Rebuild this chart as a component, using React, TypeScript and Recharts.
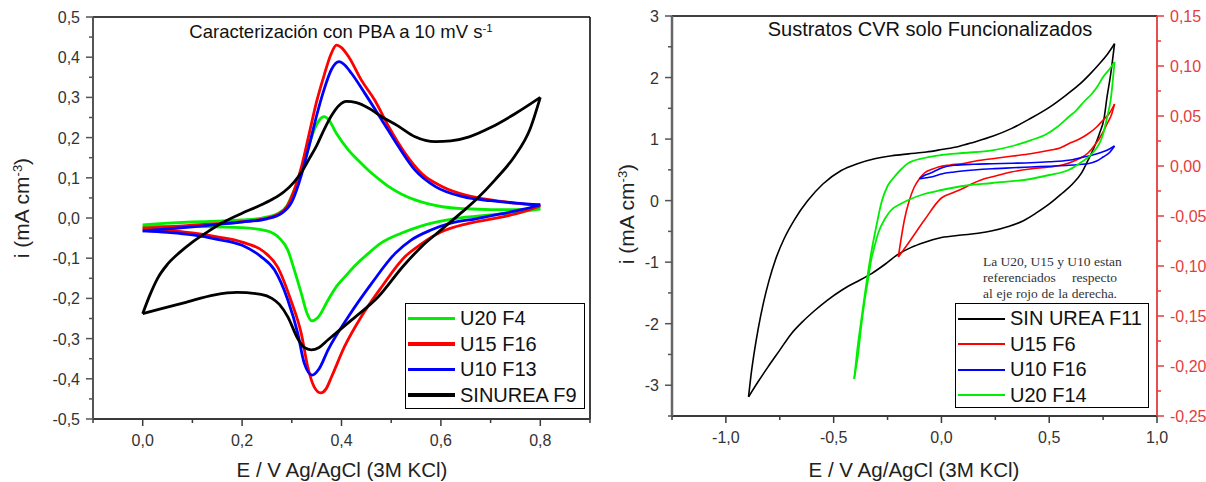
import React from "react";
import { LineChart, Line, XAxis, YAxis, ReferenceLine } from "recharts";

type Pt = [number, number];

// ---- panel 1: Caracterización con PBA a 10 mV s-1  (E / V, i / mA cm-3) ----
// each voltammogram split in anodic (upper) and cathodic (lower) sweep, x ascending
const u20f4Up: Pt[] = [[0, -0.017], [0.05, -0.013], [0.1, -0.01], [0.15, -0.008], [0.2, -0.005], [0.24, 0.0], [0.27, 0.01], [0.29, 0.03], [0.305, 0.07], [0.319, 0.112], [0.332, 0.17], [0.345, 0.219], [0.355, 0.243], [0.365, 0.252], [0.375, 0.243], [0.39, 0.21], [0.414, 0.169], [0.434, 0.143], [0.454, 0.119], [0.475, 0.097], [0.495, 0.078], [0.52, 0.06], [0.548, 0.045], [0.575, 0.035], [0.603, 0.028], [0.65, 0.023], [0.7, 0.021], [0.75, 0.021], [0.8, 0.023]];
const u20f4Down: Pt[] = [[0, -0.02], [0.1, -0.021], [0.2, -0.024], [0.25, -0.032], [0.275, -0.05], [0.292, -0.08], [0.305, -0.129], [0.319, -0.187], [0.33, -0.235], [0.34, -0.256], [0.352, -0.248], [0.373, -0.204], [0.39, -0.17], [0.407, -0.146], [0.43, -0.115], [0.454, -0.088], [0.48, -0.062], [0.52, -0.038], [0.56, -0.02], [0.6, -0.008], [0.65, 0.002], [0.7, 0.008], [0.75, 0.014], [0.8, 0.023]];

const u15f16Up: Pt[] = [[0, -0.025], [0.05, -0.022], [0.1, -0.018], [0.15, -0.014], [0.2, -0.009], [0.24, -0.003], [0.27, 0.008], [0.29, 0.028], [0.305, 0.07], [0.32, 0.13], [0.335, 0.21], [0.35, 0.29], [0.365, 0.355], [0.378, 0.405], [0.39, 0.43], [0.4, 0.424], [0.415, 0.4], [0.44, 0.343], [0.467, 0.293], [0.495, 0.227], [0.528, 0.161], [0.562, 0.11], [0.603, 0.078], [0.65, 0.057], [0.7, 0.045], [0.75, 0.037], [0.8, 0.03]];
const u15f16Down: Pt[] = [[0, -0.025], [0.05, -0.03], [0.1, -0.037], [0.15, -0.047], [0.2, -0.06], [0.244, -0.084], [0.271, -0.121], [0.298, -0.204], [0.319, -0.287], [0.332, -0.37], [0.345, -0.42], [0.358, -0.435], [0.369, -0.425], [0.38, -0.395], [0.406, -0.32], [0.44, -0.245], [0.481, -0.171], [0.528, -0.096], [0.56, -0.065], [0.6, -0.035], [0.65, -0.015], [0.7, -0.003], [0.75, 0.01], [0.8, 0.03]];

const u10f13Up: Pt[] = [[0, -0.032], [0.05, -0.027], [0.1, -0.022], [0.15, -0.016], [0.2, -0.01], [0.25, -0.002], [0.28, 0.012], [0.3, 0.04], [0.32, 0.11], [0.335, 0.18], [0.35, 0.255], [0.365, 0.32], [0.38, 0.37], [0.395, 0.389], [0.407, 0.38], [0.42, 0.36], [0.447, 0.31], [0.481, 0.244], [0.515, 0.177], [0.548, 0.119], [0.589, 0.078], [0.644, 0.053], [0.7, 0.043], [0.75, 0.037], [0.8, 0.033]];
const u10f13Down: Pt[] = [[0, -0.032], [0.05, -0.036], [0.1, -0.042], [0.15, -0.053], [0.2, -0.068], [0.238, -0.096], [0.265, -0.129], [0.292, -0.204], [0.312, -0.287], [0.325, -0.361], [0.341, -0.391], [0.355, -0.375], [0.373, -0.328], [0.414, -0.245], [0.461, -0.162], [0.508, -0.088], [0.54, -0.055], [0.58, -0.03], [0.62, -0.013], [0.67, -0.002], [0.72, 0.01], [0.76, 0.02], [0.8, 0.033]];

const sinureaF9Up: Pt[] = [[0, -0.238], [0.015, -0.19], [0.03, -0.15], [0.05, -0.115], [0.075, -0.085], [0.1, -0.06], [0.13, -0.035], [0.16, -0.012], [0.2, 0.012], [0.23, 0.028], [0.26, 0.046], [0.285, 0.066], [0.305, 0.09], [0.32, 0.115], [0.335, 0.147], [0.35, 0.18], [0.365, 0.22], [0.38, 0.255], [0.395, 0.28], [0.41, 0.29], [0.43, 0.287], [0.455, 0.273], [0.481, 0.252], [0.515, 0.228], [0.548, 0.202], [0.589, 0.19], [0.62, 0.192], [0.657, 0.202], [0.7, 0.225], [0.75, 0.26], [0.8, 0.3]];
const sinureaF9Down: Pt[] = [[0, -0.238], [0.036, -0.226], [0.083, -0.211], [0.145, -0.191], [0.19, -0.185], [0.238, -0.19], [0.26, -0.2], [0.275, -0.215], [0.292, -0.246], [0.312, -0.3], [0.325, -0.322], [0.339, -0.328], [0.355, -0.322], [0.373, -0.303], [0.42, -0.254], [0.474, -0.196], [0.524, -0.12], [0.562, -0.07], [0.601, -0.029], [0.64, 0.012], [0.671, 0.046], [0.709, 0.095], [0.748, 0.153], [0.779, 0.22], [0.8, 0.3]];

// ---- panel 2: Sustratos CVR solo Funcionalizados ----
// SIN UREA on the left axis (mA cm-3); U15, U10, U20 on the red right axis
const sinUreaF11Up: Pt[] = [[-0.895, -3.19], [-0.885, -2.88], [-0.87, -2.5], [-0.85, -2.08], [-0.825, -1.65], [-0.8, -1.3], [-0.77, -0.96], [-0.73, -0.62], [-0.68, -0.3], [-0.62, 0], [-0.55, 0.27], [-0.465, 0.49], [-0.39, 0.6], [-0.31, 0.68], [-0.23, 0.73], [-0.153, 0.76], [-0.07, 0.79], [0, 0.83], [0.08, 0.88], [0.15, 0.95], [0.24, 1.05], [0.324, 1.17], [0.41, 1.33], [0.502, 1.52], [0.58, 1.72], [0.644, 1.9], [0.69, 2.06], [0.732, 2.22], [0.77, 2.38], [0.803, 2.55]];
const sinUreaF11Down: Pt[] = [[-0.895, -3.19], [-0.85, -2.94], [-0.806, -2.71], [-0.75, -2.43], [-0.698, -2.17], [-0.645, -1.97], [-0.589, -1.79], [-0.53, -1.62], [-0.465, -1.46], [-0.4, -1.33], [-0.326, -1.19], [-0.26, -1.03], [-0.2, -0.87], [-0.14, -0.76], [-0.08, -0.68], [0, -0.6], [0.094, -0.56], [0.17, -0.53], [0.236, -0.49], [0.31, -0.42], [0.378, -0.33], [0.44, -0.2], [0.502, -0.05], [0.56, 0.12], [0.608, 0.27], [0.65, 0.45], [0.679, 0.65], [0.71, 0.88], [0.732, 1.08], [0.755, 1.35], [0.768, 1.68], [0.785, 2.05], [0.803, 2.55]];

const u15f6Up: Pt[] = [[-0.2, -0.091], [-0.185, -0.07], [-0.172, -0.054], [-0.15, -0.035], [-0.126, -0.021], [-0.1, -0.012], [-0.079, -0.007], [-0.04, -0.003], [-0.014, -0.001], [0.04, 0.001], [0.094, 0.0023], [0.16, 0.005], [0.236, 0.0073], [0.33, 0.01], [0.413, 0.0123], [0.502, 0.0157], [0.55, 0.018], [0.59, 0.0223], [0.64, 0.027], [0.679, 0.032], [0.72, 0.039], [0.75, 0.046], [0.78, 0.053], [0.803, 0.062]];
const u15f6Down: Pt[] = [[-0.2, -0.091], [-0.153, -0.077], [-0.079, -0.054], [0, -0.032], [0.05, -0.027], [0.094, -0.023], [0.14, -0.018], [0.183, -0.014], [0.25, -0.01], [0.324, -0.006], [0.41, -0.003], [0.502, -0.001], [0.56, 0.001], [0.626, 0.006], [0.68, 0.013], [0.715, 0.022], [0.745, 0.032], [0.768, 0.042], [0.79, 0.052], [0.803, 0.062]];

const u10f16Up: Pt[] = [[-0.101, -0.0127], [-0.08, -0.0095], [-0.05, -0.007], [-0.03, -0.005], [0, -0.002], [0.059, 0.0007], [0.15, 0.0018], [0.236, 0.0023], [0.33, 0.0028], [0.413, 0.0033], [0.5, 0.0042], [0.59, 0.0057], [0.65, 0.0085], [0.697, 0.0107], [0.74, 0.0135], [0.768, 0.0157], [0.803, 0.02]];
const u10f16Down: Pt[] = [[-0.101, -0.0127], [-0.07, -0.0118], [-0.048, -0.011], [0, -0.008], [0.059, -0.006], [0.15, -0.004], [0.236, -0.0027], [0.33, -0.0018], [0.413, -0.001], [0.5, -0.0002], [0.59, 0.0007], [0.64, 0.0015], [0.679, 0.0023], [0.72, 0.005], [0.75, 0.009], [0.78, 0.0135], [0.803, 0.02]];

const u20f14Up: Pt[] = [[-0.405, -0.213], [-0.39, -0.183], [-0.372, -0.154], [-0.35, -0.12], [-0.326, -0.087], [-0.3, -0.058], [-0.279, -0.037], [-0.25, -0.02], [-0.219, -0.011], [-0.19, -0.004], [-0.153, 0.003], [-0.08, 0.008], [0, 0.011], [0.1, 0.013], [0.236, 0.0157], [0.33, 0.02], [0.413, 0.0257], [0.48, 0.031], [0.537, 0.039], [0.59, 0.049], [0.626, 0.0557], [0.66, 0.064], [0.697, 0.072], [0.725, 0.08], [0.75, 0.089], [0.78, 0.097], [0.803, 0.104]];
const u20f14Down: Pt[] = [[-0.405, -0.213], [-0.386, -0.187], [-0.372, -0.16], [-0.358, -0.137], [-0.34, -0.113], [-0.326, -0.094], [-0.31, -0.08], [-0.293, -0.067], [-0.26, -0.052], [-0.233, -0.044], [-0.19, -0.038], [-0.153, -0.034], [-0.08, -0.028], [0, -0.024], [0.1, -0.02], [0.236, -0.017], [0.413, -0.013], [0.5, -0.009], [0.59, -0.004], [0.65, 0.004], [0.697, 0.012], [0.75, 0.032], [0.77, 0.05], [0.785, 0.066], [0.803, 0.104]];

// ticks
const pbaXMajor = [0, 0.2, 0.4, 0.6, 0.8];
const pbaXMinor = [-0.1, 0.1, 0.3, 0.5, 0.7, 0.9];
const pbaYMajor = [-0.5, -0.4, -0.3, -0.2, -0.1, 0, 0.1, 0.2, 0.3, 0.4, 0.5];
const pbaYMinor = [-0.45, -0.35, -0.25, -0.15, -0.05, 0.05, 0.15, 0.25, 0.35, 0.45];
const cvrXMajor = [-1, -0.5, 0, 0.5, 1];
const cvrXMinor = [-1.25, -0.75, -0.25, 0.25, 0.75];
const cvrYMajor = [-3, -2, -1, 0, 1, 2, 3];
const cvrYMinor = [-3.5, -2.5, -1.5, -0.5, 0.5, 1.5, 2.5];
const cvrRMajor = [-0.25, -0.2, -0.15, -0.1, -0.05, 0, 0.05, 0.1, 0.15];
const cvrRMinor = [-0.225, -0.175, -0.125, -0.075, -0.025, 0.025, 0.075, 0.125];

const FONT = "Arial, 'Liberation Sans', Helvetica, sans-serif";
const GREEN = "#00ee00";
const RED = "#ff0000";
const BLUE = "#0000ff";
const AXIS_RED = "#e53c3c";

const rows = (pts: Pt[]) => pts.map(([x, y]) => ({ x, y }));
const comma = (d: number) => (v: number) => v.toFixed(d).replace(".", ",");
const allTicks = (a: number[], b: number[]) => [...a, ...b].sort((p, q) => p - q);

function makeTick(side: "left" | "right" | "bottom", majors: number[], fmt: (v: number) => string, color: string, tickColor: string) {
  return (props: any) => {
    const { x, y, payload } = props;
    const v = payload.value as number;
    const major = majors.some((m) => Math.abs(m - v) < 1e-9);
    const len = major ? 7 : 4;
    if (side === "bottom") {
      return (
        <g>
          <line x1={x} x2={x} y1={y} y2={y + len} stroke={tickColor} strokeWidth={1.5} />
          {major && <text x={x} y={y + 27} textAnchor="middle" fontSize={16} fill={color} fontFamily={FONT}>{fmt(v)}</text>}
        </g>
      );
    }
    const dir = side === "left" ? -1 : 1;
    return (
      <g>
        <line x1={x} x2={x + dir * len} y1={y} y2={y} stroke={tickColor} strokeWidth={1.5} />
        {major && (
          <text x={x + dir * 13} y={y + 6} textAnchor={side === "left" ? "end" : "start"} fontSize={16} fill={color} fontFamily={FONT}>
            {fmt(v)}
          </text>
        )}
      </g>
    );
  };
}

const Sup = ({ children }: { children: React.ReactNode }) => (
  <span style={{ fontSize: "0.62em", position: "relative", top: "-0.55em" }}>{children}</span>
);

function LegendBox({ left, top, width, height, items, lineW }: { left: number; top: number; width: number; height: number; items: { name: string; color: string }[]; lineW: number }) {
  return (
    <div style={{ position: "absolute", left, top, width, height, border: "1.5px solid #000", background: "#fff", boxSizing: "border-box" }}>
      {items.map((it, i) => (
        <div key={it.name} style={{ position: "absolute", left: 2, top: 2 + i * 25.5, height: 25, display: "flex", alignItems: "center", whiteSpace: "nowrap" }}>
          <div style={{ width: 47, height: lineW, background: it.color }} />
          <span style={{ marginLeft: 5, fontSize: 20, fontFamily: FONT, color: "#111", lineHeight: "25px" }}>{it.name}</span>
        </div>
      ))}
    </div>
  );
}

function AxisTitleY({ cx, cy }: { cx: number; cy: number }) {
  return (
    <div style={{ position: "absolute", left: cx - 100, top: cy - 14, width: 200, height: 28, lineHeight: "28px", textAlign: "center", transform: "rotate(-90deg)", fontSize: 21, fontFamily: FONT, color: "#222" }}>
      i (mA cm<Sup>-3</Sup>)
    </div>
  );
}

function AxisTitleX({ cx, cy }: { cx: number; cy: number }) {
  return (
    <div style={{ position: "absolute", left: cx - 160, top: cy - 14, width: 320, height: 28, lineHeight: "28px", textAlign: "center", fontSize: 20.5, fontFamily: FONT, color: "#222" }}>
      E / V Ag/AgCl (3M KCl)
    </div>
  );
}

export default function App() {
  const lineProps = { type: "monotone" as const, dot: false, activeDot: false, isAnimationActive: false, strokeLinejoin: "round" as const };
  return (
    <div style={{ position: "absolute", left: 0, top: 0, width: 1206, height: 482, background: "#fff", overflow: "hidden" }}>
      {/* left panel */}
      <div style={{ position: "absolute", left: 0, top: 0 }}>
        <LineChart width={600} height={482} margin={{ top: 17, right: 10, bottom: 0, left: 0 }}>
          <XAxis type="number" dataKey="x" domain={[-0.1, 0.9]} allowDataOverflow ticks={allTicks(pbaXMinor, pbaXMajor)} interval={0} height={63} tickSize={0} tickMargin={0} tickLine={false} axisLine={{ stroke: "#3a3a3a", strokeWidth: 2 }} tick={makeTick("bottom", pbaXMajor, comma(1), "#333", "#3a3a3a")} />
          <YAxis type="number" domain={[-0.5, 0.5]} allowDataOverflow ticks={allTicks(pbaYMinor, pbaYMajor)} interval={0} width={93} tickSize={0} tickMargin={0} tickLine={false} axisLine={{ stroke: "#555", strokeWidth: 2 }} tick={makeTick("left", pbaYMajor, comma(1), "#333", "#555")} />
          <ReferenceLine y={0.5} stroke="#000" strokeWidth={1.5} ifOverflow="visible" />
          <ReferenceLine x={0.9} stroke="#000" strokeWidth={1.5} ifOverflow="visible" />
          <Line {...lineProps} data={rows(u20f4Up)} dataKey="y" stroke={GREEN} strokeWidth={2.8} />
          <Line {...lineProps} data={rows(u20f4Down)} dataKey="y" stroke={GREEN} strokeWidth={2.8} />
          <Line {...lineProps} data={rows(u15f16Up)} dataKey="y" stroke={RED} strokeWidth={2.8} />
          <Line {...lineProps} data={rows(u15f16Down)} dataKey="y" stroke={RED} strokeWidth={2.8} />
          <Line {...lineProps} data={rows(u10f13Up)} dataKey="y" stroke={BLUE} strokeWidth={2.8} />
          <Line {...lineProps} data={rows(u10f13Down)} dataKey="y" stroke={BLUE} strokeWidth={2.8} />
          <Line {...lineProps} data={rows(sinureaF9Up)} dataKey="y" stroke="#000" strokeWidth={2.8} />
          <Line {...lineProps} data={rows(sinureaF9Down)} dataKey="y" stroke="#000" strokeWidth={2.8} />
        </LineChart>
      </div>

      {/* right panel */}
      <div style={{ position: "absolute", left: 600, top: 0 }}>
        <LineChart width={606} height={482} margin={{ top: 16, right: 0, bottom: 0, left: 0 }}>
          <XAxis type="number" dataKey="x" domain={[-1.25, 1]} allowDataOverflow ticks={allTicks(cvrXMinor, cvrXMajor)} interval={0} height={66} tickSize={0} tickMargin={0} tickLine={false} axisLine={{ stroke: "#3a3a3a", strokeWidth: 2 }} tick={makeTick("bottom", cvrXMajor, comma(1), "#333", "#3a3a3a")} />
          <YAxis yAxisId="l" type="number" domain={[-3.5, 3]} allowDataOverflow ticks={allTicks(cvrYMinor, cvrYMajor)} interval={0} width={72} tickSize={0} tickMargin={0} tickLine={false} axisLine={{ stroke: "#666", strokeWidth: 2.5 }} tick={makeTick("left", cvrYMajor, (v) => String(v), "#333", "#555")} />
          <YAxis yAxisId="r" orientation="right" type="number" domain={[-0.25, 0.15]} allowDataOverflow ticks={allTicks(cvrRMinor, cvrRMajor)} interval={0} width={49} tickSize={0} tickMargin={0} tickLine={false} axisLine={{ stroke: AXIS_RED, strokeWidth: 1.8 }} tick={makeTick("right", cvrRMajor, comma(2), AXIS_RED, AXIS_RED)} />
          <ReferenceLine yAxisId="l" y={3} stroke="#000" strokeWidth={1.5} ifOverflow="visible" />
          <Line {...lineProps} yAxisId="l" data={rows(sinUreaF11Up)} dataKey="y" stroke="#000" strokeWidth={1.6} />
          <Line {...lineProps} yAxisId="l" data={rows(sinUreaF11Down)} dataKey="y" stroke="#000" strokeWidth={1.6} />
          <Line {...lineProps} yAxisId="r" data={rows(u15f6Up)} dataKey="y" stroke={RED} strokeWidth={1.6} />
          <Line {...lineProps} yAxisId="r" data={rows(u15f6Down)} dataKey="y" stroke={RED} strokeWidth={1.6} />
          <Line {...lineProps} yAxisId="r" data={rows(u10f16Up)} dataKey="y" stroke={BLUE} strokeWidth={1.6} />
          <Line {...lineProps} yAxisId="r" data={rows(u10f16Down)} dataKey="y" stroke={BLUE} strokeWidth={1.6} />
          <Line {...lineProps} yAxisId="r" data={rows(u20f14Up)} dataKey="y" stroke={GREEN} strokeWidth={1.8} />
          <Line {...lineProps} yAxisId="r" data={rows(u20f14Down)} dataKey="y" stroke={GREEN} strokeWidth={1.8} />
        </LineChart>
      </div>

      {/* titles */}
      <div style={{ position: "absolute", left: 141, top: 21, width: 400, textAlign: "center", fontSize: 18.5, fontFamily: FONT, color: "#111" }}>
        Caracterización con PBA a 10 mV s<Sup>-1</Sup>
      </div>
      <div style={{ position: "absolute", left: 730, top: 18, width: 400, textAlign: "center", fontSize: 20, fontFamily: FONT, color: "#111" }}>
        Sustratos CVR solo Funcionalizados
      </div>

      <AxisTitleY cx={22} cy={208} />
      <AxisTitleY cx={627} cy={214} />
      <AxisTitleX cx={342} cy={470} />
      <AxisTitleX cx={914} cy={470} />

      <LegendBox left={405} top={303} width={180} height={106} lineW={3.5}
        items={[{ name: "U20 F4", color: GREEN }, { name: "U15 F16", color: RED }, { name: "U10 F13", color: BLUE }, { name: "SINUREA F9", color: "#000" }]} />
      <LegendBox left={955} top={303} width={194} height={105} lineW={2}
        items={[{ name: "SIN UREA F11", color: "#000" }, { name: "U15 F6", color: RED }, { name: "U10 F16", color: BLUE }, { name: "U20 F14", color: GREEN }]} />

      {/* note */}
      <div style={{ position: "absolute", left: 983, top: 254, width: 134, fontFamily: "'Liberation Serif', 'Times New Roman', serif", fontSize: 13.5, lineHeight: "16px", color: "#333" }}>
        {["La U20, U15 y U10 estan", "referenciados respecto", "al eje rojo de la derecha."].map((t) => (
          <div key={t} style={{ textAlign: "justify", textAlignLast: "justify", whiteSpace: "nowrap" }}>{t}</div>
        ))}
      </div>
    </div>
  );
}
